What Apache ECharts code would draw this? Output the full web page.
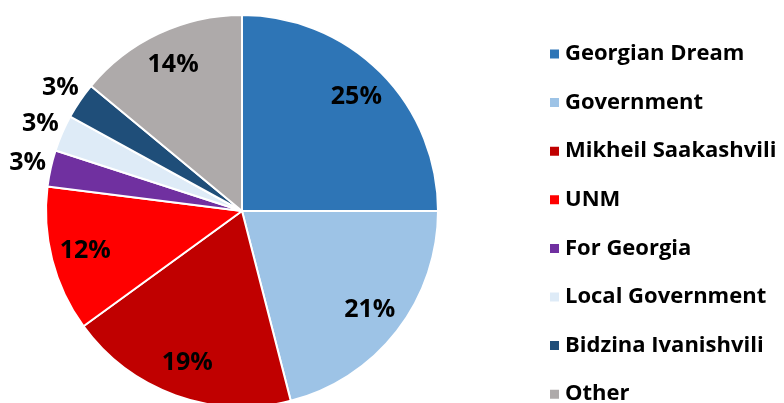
<!DOCTYPE html>
<html>
<head>
<meta charset="utf-8">
<script src="https://cdn.jsdelivr.net/npm/echarts@6/dist/echarts.min.js"></script>
<style>
  html, body { margin: 0; padding: 0; background: #fff; }
  #chart { width: 784px; height: 403px; }
</style>
</head>
<body>
<div id="chart"></div>
<script>
// slice data, clockwise from 12 o'clock
var categories = ['Georgian Dream', 'Government', 'Mikheil Saakashvili', 'UNM',
  'For Georgia', 'Local Government', 'Bidzina Ivanishvili', 'Other'];
var shares = [25, 21, 19, 12, 3, 3, 3, 14];
var colors = ['#2E75B6', '#9DC3E6', '#C00000', '#FF0000',
  '#7030A0', '#DEEBF7', '#1F4E79', '#AEAAAA'];

var center = [242, 211];
var R = 196;
var labelFont = { fontFamily: 'Open Sans', fontWeight: 'bold', fontSize: 25, color: '#000' };

function pct(p) { return Math.round(p.percent) + '%'; }

// small slices get their label outside the pie
function isSmall(v) { return v < 5; }

var mainData = categories.map(function(name, i) {
  return { name: name, value: shares[i], itemStyle: { color: colors[i] } };
});

// transparent rings used only to place the labels
function labelRing(showSmall) {
  return categories.map(function(name, i) {
    return {
      name: name, value: shares[i],
      label: { show: isSmall(shares[i]) === showSmall }
    };
  });
}

var chart = echarts.init(document.getElementById('chart'), null, { renderer: 'canvas' });
chart.setOption({
  animation: false,
  legend: {
    orient: 'vertical',
    left: 548,
    top: 42,
    height: 390,
    padding: 0,
    icon: 'rect',
    itemWidth: 11,
    itemHeight: 11,
    itemGap: 24.6,
    data: categories,
    selectedMode: false,
    textStyle: { fontFamily: 'Open Sans', fontWeight: 'bold', fontSize: 22, color: '#000', lineHeight: 24 }
  },
  series: [
    {
      type: 'pie',
      center: center,
      radius: [0, R],
      startAngle: 90,
      clockwise: true,
      silent: true,
      label: { show: false },
      labelLine: { show: false },
      itemStyle: { borderColor: '#fff', borderWidth: 2 },
      data: mainData
    },
    {
      type: 'pie',
      center: center,
      radius: [R * 0.62, R],
      startAngle: 90,
      silent: true,
      itemStyle: { color: 'rgba(0,0,0,0)' },
      labelLine: { show: false },
      label: Object.assign({ position: 'inside', formatter: pct }, labelFont),
      data: labelRing(false)
    },
    {
      type: 'pie',
      center: center,
      radius: [R, R * 1.21],
      startAngle: 90,
      silent: true,
      itemStyle: { color: 'rgba(0,0,0,0)' },
      labelLine: { show: false },
      label: Object.assign({ position: 'inside', formatter: pct }, labelFont),
      data: labelRing(true)
    }
  ]
});
</script>
</body>
</html>
